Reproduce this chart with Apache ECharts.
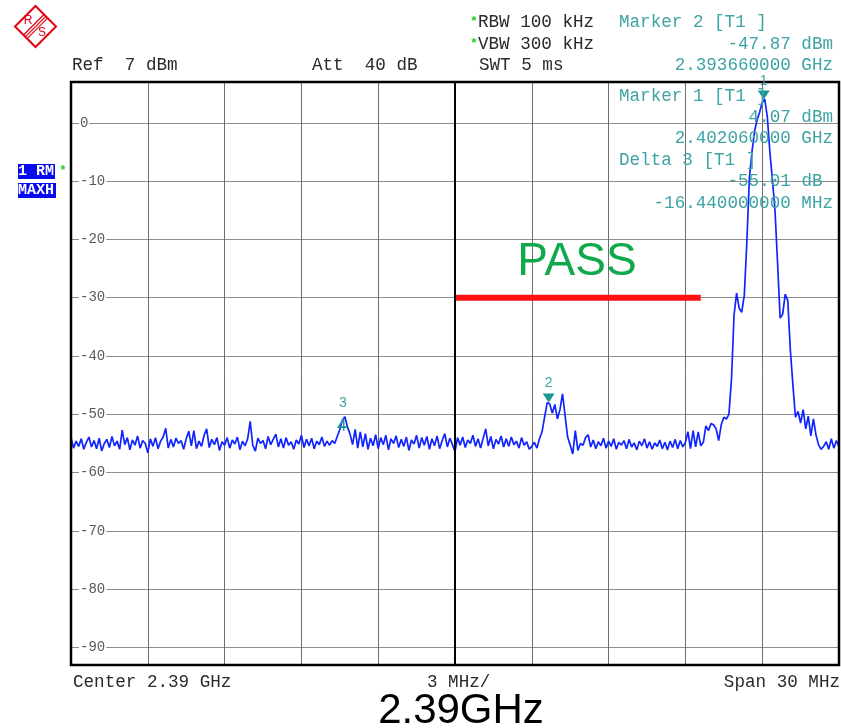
<!DOCTYPE html>
<html>
<head>
<meta charset="utf-8">
<script src="https://cdn.jsdelivr.net/npm/echarts@6/dist/echarts.min.js"></script>
<style>
html,body{margin:0;padding:0;background:#fff;}
#chart{width:841px;height:728px;}
</style>
</head>
<body>
<div id="chart"></div>
<script>
// ---- Sweep definition (spectrum analyzer) ----
const centerGHz = 2.39;
const spanMHz = 30;
const divMHz = 3;
const sweepStartMHz = -15;   // offset from center
const sweepStepMHz = 0.1;

// ---- Trace levels (dBm), one per sweep point ----
const levels = [
  -54.0,-55.8,-54.6,-55.5,-54.2,-56.0,-54.8,-53.9,-55.6,-54.5,
  -55.9,-54.1,-56.3,-55.0,-54.3,-55.7,-53.8,-55.4,-54.6,-56.0,
  -52.7,-55.2,-54.0,-56.1,-54.4,-55.3,-53.7,-55.8,-54.5,-55.0,
  -56.6,-54.2,-55.5,-54.0,-55.9,-54.6,-53.9,-52.4,-55.8,-54.3,
  -55.6,-54.1,-55.0,-54.5,-56.0,-54.2,-52.9,-55.4,-52.8,-55.9,
  -54.6,-55.5,-53.6,-52.5,-55.7,-54.3,-55.2,-54.0,-56.2,-54.7,
  -55.3,-54.0,-55.8,-54.4,-55.1,-53.9,-56.1,-54.6,-55.4,-54.2,
  -51.2,-55.3,-56.3,-54.1,-55.0,-54.5,-55.9,-53.8,-55.2,-54.3,
  -53.4,-55.6,-54.2,-55.8,-54.0,-55.3,-54.7,-56.0,-54.4,-55.1,
  -53.6,-55.7,-54.3,-55.4,-54.1,-55.9,-54.6,-55.2,-53.9,-55.5,
  -54.6,-55.3,-54.5,-55.0,-53.8,-52.6,-51.0,-50.4,-52.2,-53.4,
  -55.2,-52.6,-55.8,-53.0,-55.6,-53.3,-56.0,-54.1,-55.4,-53.5,
  -55.9,-54.0,-55.2,-53.6,-56.1,-54.2,-55.0,-53.7,-55.7,-54.3,
  -55.5,-53.9,-56.2,-54.4,-55.1,-53.6,-55.8,-54.0,-55.3,-53.8,
  -56.0,-54.2,-55.4,-53.7,-55.9,-54.5,-53.3,-55.6,-54.1,-55.2,
  -56.4,-54.0,-55.3,-53.9,-55.7,-54.4,-55.0,-53.6,-55.5,-54.2,
  -55.8,-54.1,-52.5,-55.4,-53.8,-55.9,-54.3,-55.1,-53.7,-55.6,
  -54.2,-55.5,-53.9,-55.2,-54.6,-55.8,-54.0,-55.3,-54.7,-56.0,
  -55.5,-54.8,-55.8,-54.2,-53.0,-50.5,-48.0,-48.2,-49.8,-48.3,
  -50.8,-49.2,-46.5,-50.2,-53.9,-55.3,-56.8,-52.8,-56.2,-55.0,
  -55.3,-54.0,-53.5,-55.6,-54.4,-55.9,-54.7,-55.4,-54.1,-55.8,
  -54.6,-55.5,-54.2,-56.0,-54.8,-55.3,-54.5,-55.9,-54.3,-55.6,
  -54.9,-56.1,-54.6,-55.4,-54.2,-55.8,-54.7,-56.0,-54.9,-55.5,
  -54.4,-55.9,-54.8,-56.1,-54.6,-55.7,-54.3,-55.9,-54.5,-55.6,
  -54.8,-53.0,-55.9,-52.8,-55.6,-53.0,-55.4,-54.8,-52.0,-52.8,
  -51.6,-51.8,-52.5,-54.5,-51.8,-50.5,-50.8,-50.0,-44.0,-33.0,
  -29.2,-31.8,-32.5,-29.6,-20.5,-9.5,-5.0,-1.5,0.5,1.8,
  3.5,4.07,1.0,-5.0,-9.8,-15.0,-24.0,-33.5,-32.8,-29.4,
  -30.5,-39.0,-45.0,-50.5,-49.5,-51.5,-49.2,-52.5,-50.3,-53.7,
  -50.8,-53.5,-55.2,-56.0,-55.5,-54.7,-56.0,-54.2,-55.8,-54.5,
  -55.6
];

// ---- Markers ----
const markerNames = ['1', '2', '3'];
const markerFreqGHz = [2.40206, 2.39366, 2.38562];
const markerLevel = [4.07, -47.87, -50.94];
const deltaDb = -55.01;
const deltaMHz = -16.44;

// ---- Limit line ----
const limitFreqGHz = [2.390, 2.3996];
const limitLevel = [-30, -30];

// ---- Y axis ----
const refLevel = 7;
const yBottom = -93;

const toOff = g => +((g - centerGHz) * 1000).toFixed(4);
const traceData = levels.map((v, i) => [+(sweepStartMHz + i * sweepStepMHz).toFixed(2), v]);
const limitData = limitFreqGHz.map((g, i) => [toOff(g), limitLevel[i]]);

const teal = '#3fa3a3';
const mono = '"Liberation Mono", "DejaVu Sans Mono", monospace';
const fs = 17.6;
const hdr = '#2a2a2a';

function txt(x, y, s, color, align, extra) {
  return Object.assign({
    type: 'text', x: x, y: y, z: 100,
    style: {text: s, fill: color || hdr, font: fs + 'px ' + mono,
            textAlign: align || 'left', textVerticalAlign: 'middle'}
  }, extra || {});
}

const graphics = [
  // R&S logo
  {type: 'polygon', shape: {points: [[35.5,6],[56,26.5],[35.5,47],[15,26.5]]},
   style: {fill: 'none', stroke: '#e3000f', lineWidth: 2}},
  {type: 'line', shape: {x1: 44, y1: 14.5, x2: 23.5, y2: 35}, style: {stroke: '#e3000f', lineWidth: 1.2}},
  {type: 'line', shape: {x1: 45.8, y1: 16.3, x2: 25.3, y2: 36.8}, style: {stroke: '#e3000f', lineWidth: 1.2}},
  {type: 'line', shape: {x1: 47.6, y1: 18.1, x2: 27.1, y2: 38.6}, style: {stroke: '#e3000f', lineWidth: 1.2}},
  {type: 'text', x: 28, y: 21, style: {text: 'R', fill: '#e3000f', font: '12px "Liberation Sans"', textAlign: 'center', textVerticalAlign: 'middle'}},
  {type: 'text', x: 42, y: 33, style: {text: 'S', fill: '#e3000f', font: '12px "Liberation Sans"', textAlign: 'center', textVerticalAlign: 'middle'}},

  // header
  txt(470, 22, '*', '#22cc22', 'left', {style: {text: '*', fill: '#22cc22', font: 'bold 13px ' + mono, textAlign: 'left', textVerticalAlign: 'middle'}}),
  txt(478, 22, 'RBW 100 kHz'),
  txt(470, 44, '*', '#22cc22', 'left', {style: {text: '*', fill: '#22cc22', font: 'bold 13px ' + mono, textAlign: 'left', textVerticalAlign: 'middle'}}),
  txt(478, 44, 'VBW 300 kHz'),
  txt(479, 65, 'SWT 5 ms'),
  txt(72, 65, 'Ref  ' + refLevel + ' dBm'),
  txt(312, 65, 'Att  40 dB'),
  txt(619, 22, 'Marker ' + markerNames[1] + ' [T1 ]', teal),
  txt(833, 44, markerLevel[1].toFixed(2) + ' dBm', teal, 'right'),
  txt(833, 65, markerFreqGHz[1].toFixed(9) + ' GHz', teal, 'right'),

  // marker info inside plot
  txt(619, 96, 'Marker ' + markerNames[0] + ' [T1 ]', teal),
  txt(833, 117, markerLevel[0].toFixed(2) + ' dBm', teal, 'right'),
  txt(833, 138, markerFreqGHz[0].toFixed(9) + ' GHz', teal, 'right'),
  txt(619, 160, 'Delta ' + markerNames[2] + ' [T1 ]', teal),
  txt(822.5, 181, deltaDb.toFixed(2) + ' dB', teal, 'right'),
  txt(833, 203, deltaMHz.toFixed(9) + ' MHz', teal, 'right'),

  // trace info boxes
  {type: 'rect', shape: {x: 18, y: 164, width: 37, height: 15}, style: {fill: '#0a0af0'}},
  {type: 'rect', shape: {x: 18, y: 183, width: 38, height: 15}, style: {fill: '#0a0af0'}},
  {type: 'text', x: 18, y: 171.5, style: {text: '1 RM', fill: '#fff', font: 'bold 15px ' + mono, textVerticalAlign: 'middle'}},
  {type: 'text', x: 18, y: 190.5, style: {text: 'MAXH', fill: '#fff', font: 'bold 15px ' + mono, textVerticalAlign: 'middle'}},
  {type: 'text', x: 59, y: 171, style: {text: '*', fill: '#22cc22', font: 'bold 13px ' + mono, textVerticalAlign: 'middle'}},

  // footer
  txt(73, 682, 'Center ' + centerGHz + ' GHz'),
  txt(427, 682, divMHz + ' MHz/'),
  txt(840, 682, 'Span ' + spanMHz + ' MHz', hdr, 'right'),
  {type: 'text', x: 461, y: 711, style: {text: centerGHz + 'GHz', fill: '#000', font: '42px "Liberation Sans", Arial, sans-serif', textAlign: 'center', textVerticalAlign: 'middle'}},

  // PASS
  {type: 'text', x: 577, y: 262, z: 100, style: {text: 'PASS', fill: '#10a84c', font: '46px "Liberation Sans", Arial, sans-serif', textAlign: 'center', textVerticalAlign: 'middle'}}
];

const chart = echarts.init(document.getElementById('chart'), null, {renderer: 'canvas'});
chart.setOption({
  animation: false,
  backgroundColor: '#fff',
  grid: {left: 71, right: 2, top: 82, bottom: 63, containLabel: false, outerBoundsMode: 'none',
         show: true, borderColor: '#000', borderWidth: 2.5, backgroundColor: 'transparent', z: 5},
  xAxis: {
    type: 'value', min: sweepStartMHz, max: -sweepStartMHz, interval: divMHz,
    axisLine: {show: false}, axisTick: {show: false}, axisLabel: {show: false},
    splitLine: {show: true, lineStyle: {color: '#6e6e6e', width: 1}}
  },
  yAxis: {
    type: 'value', min: yBottom, max: refLevel, splitNumber: 10,
    axisLine: {show: false}, axisTick: {show: false},
    axisLabel: {inside: true, margin: 8, color: '#5a5a5a', fontFamily: mono, fontSize: 14,
                backgroundColor: '#fff', padding: [0, 1, 0, 1],
                showMinLabel: false, showMaxLabel: false},
    splitLine: {show: true, lineStyle: {color: '#8c8c8c', width: 1}}
  },
  series: [
    {
      type: 'line', name: 'limit', data: limitData, showSymbol: false, silent: true, z: 3,
      lineStyle: {color: '#ff1010', width: 6}, itemStyle: {color: '#ff1010'},
      markLine: {
        silent: true, symbol: ['none', 'none'], label: {show: false},
        lineStyle: {color: '#000', width: 2, type: 'solid'},
        data: [{xAxis: 0}]
      }
    },
    {
      type: 'line', name: 'trace', data: traceData, showSymbol: false, silent: true, z: 4,
      lineStyle: {color: '#1024ff', width: 1.7}, itemStyle: {color: '#1024ff'},
      markPoint: {
        silent: true,
        data: [
          {coord: [toOff(markerFreqGHz[0]), markerLevel[0]], symbol: 'triangle', symbolRotate: 180,
           symbolSize: [12, 9], symbolOffset: [0, -4], itemStyle: {color: '#1c9595'},
           label: {show: true, formatter: markerNames[0], position: 'top', distance: 2, color: teal,
                   fontSize: 14, fontFamily: '"Liberation Sans", sans-serif'}},
          {coord: [toOff(markerFreqGHz[1]), markerLevel[1]], symbol: 'triangle', symbolRotate: 180,
           symbolSize: [12, 9], symbolOffset: [0, -4], itemStyle: {color: '#1c9595'},
           label: {show: true, formatter: markerNames[1], position: 'top', distance: 3, color: teal,
                   fontSize: 14, fontFamily: '"Liberation Sans", sans-serif'}},
          {coord: [toOff(markerFreqGHz[2]), markerLevel[2]],
           symbol: 'path://M6,0 L0,9 L10,9 M6,0 L6,13', symbolSize: [9, 12], symbolOffset: [0, 5],
           itemStyle: {color: 'none', borderColor: '#1c9595', borderWidth: 1.6},
           label: {show: true, formatter: markerNames[2], position: 'top', distance: 6, color: teal,
                   fontSize: 14, fontFamily: '"Liberation Sans", sans-serif'}}
        ]
      }
    }
  ],
  graphic: {elements: graphics}
});
</script>
</body>
</html>
